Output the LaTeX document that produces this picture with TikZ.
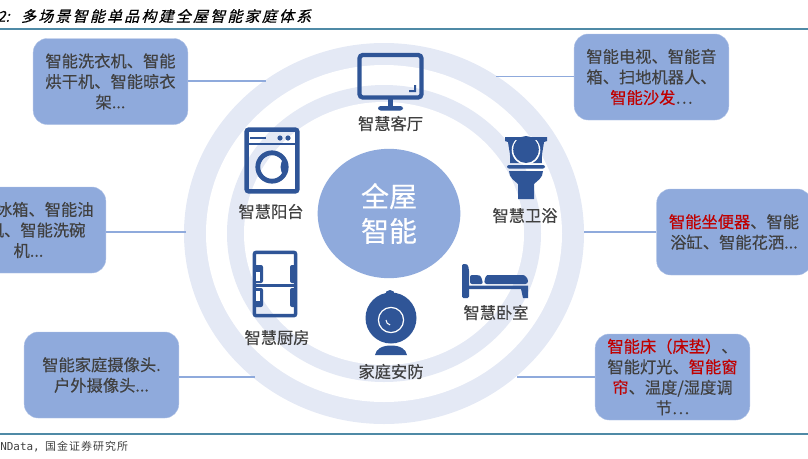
\documentclass[tikz,border=0pt]{standalone}
\usepackage{fontspec}
\usetikzlibrary{shapes.geometric}
\setmainfont[FakeBold=0.25]{Noto Sans CJK SC}
\newfontfamily\titlefont[FakeSlant=0.25,FakeBold=0.5]{Noto Sans CJK SC}
\newfontfamily\plainfont{Noto Sans CJK SC}
\newfontfamily\notefont{DejaVu Sans Mono}
\definecolor{ringblue}{HTML}{E4E9F5}
\definecolor{boxblue}{HTML}{8FAADC}
\definecolor{iconblue}{HTML}{2F5597}
\definecolor{textgray}{HTML}{404040}
\definecolor{hotred}{HTML}{C00000}
\definecolor{rulecolor}{HTML}{4F8AA6}
\tikzset{
	itembox/.style={rectangle,rounded corners=10.5pt,fill=boxblue,draw=boxblue!70!white,line width=0.3pt,inner sep=0pt,minimum width=116pt,minimum height=64.5pt,align=center,text=textgray,font=\fontsize{12.2}{15.4}\selectfont,execute at begin node={\vspace*{2.4pt}}},
	roomlabel/.style={inner sep=0pt,text=textgray,font=\fontsize{12.2}{15}\selectfont},
	linkline/.style={draw=boxblue,line width=1.4pt},
	iconline/.style={draw=iconblue,line width=3pt}
}
\begin{document}
\begin{tikzpicture}[x=0.75pt,y=-0.75pt]
	\useasboundingbox (0,0) rectangle (808,458);
	% rules and captions
	\coordinate (ruletopl) at (0,29);
	\coordinate (ruletopr) at (808,29);
	\coordinate (rulebotl) at (0,434);
	\coordinate (rulebotr) at (808,434);
	\draw[rulecolor,line width=1.4pt](ruletopl)--(ruletopr);
	\draw[rulecolor,line width=1.4pt](rulebotl)--(rulebotr);
	\node[anchor=west,inner sep=0pt,font=\titlefont\fontsize{11.2}{14}\selectfont,text=black](title) at (-3,16){2:\hspace{8.5pt}多\hspace{1.7pt}场\hspace{1.7pt}景\hspace{1.7pt}智\hspace{1.7pt}能\hspace{1.7pt}单\hspace{1.7pt}品\hspace{1.7pt}构\hspace{1.7pt}建\hspace{1.7pt}全\hspace{1.7pt}屋\hspace{1.7pt}智\hspace{1.7pt}能\hspace{1.7pt}家\hspace{1.7pt}庭\hspace{1.7pt}体\hspace{1.7pt}系};
	\node[anchor=west,inner sep=0pt,font=\plainfont\fontsize{8.2}{10}\selectfont,text=textgray](source) at (0,447){{\notefont NData,}\hspace{4pt}国\hspace{.8pt}金\hspace{.8pt}证\hspace{.8pt}券\hspace{.8pt}研\hspace{.8pt}究\hspace{.8pt}所};
	% rings
	\fill[ringblue] (384,233.5) ellipse (200 and 190.5);
	\fill[white] (384,233.5) ellipse (178 and 168.5);
	\fill[ringblue] (384,233.5) ellipse (157 and 148.5);
	\fill[white] (384,233.5) ellipse (140 and 131.5);
	\node[ellipse,fill=boxblue,minimum width=107pt,minimum height=97pt,inner sep=0pt,align=center,text=white,font=\fontsize{21}{26}\selectfont,execute at begin node={\vspace*{2.6pt}}](core) at (389,213.5){全屋\\智能};
	% side boxes
	\node[itembox](box1) at (110.5,81.5){智能洗衣机、智能\\烘干机、智能晾衣\\架...};
	\node[itembox](box2) at (651.5,77){智能电视、智能音\\箱、扫地机器人、\\\textcolor{hotred}{智能沙发}⋯};
	\node[itembox](box3) at (28.5,230){智能冰箱、智能油\\烟机、智能洗碗\\机...};
	\node[itembox](box4) at (734,232){\textcolor{hotred}{智能坐便器}、智能\\浴缸、智能花洒...};
	\node[itembox](box5) at (101.5,375){智能家庭摄像头.\\户外摄像头...};
	\node[itembox](box6) at (672.5,377){\textcolor{hotred}{智能床（床垫）}、\\智能灯光、\textcolor{hotred}{智能窗}\\\textcolor{hotred}{帘}、温度/湿度调\\节⋯};
	\coordinate (end1) at (266,81);
	\coordinate (end2) at (496,76.5);
	\coordinate (end3) at (186,232);
	\coordinate (end4) at (584,232);
	\coordinate (end5) at (255,377);
	\coordinate (end6) at (517,377);
	\draw[linkline](box1.east|-end1)--(end1);
	\draw[linkline](box2.west|-end2)--(end2);
	\draw[linkline](box3.east|-end3)--(end3);
	\draw[linkline](box4.west|-end4)--(end4);
	\draw[linkline](box5.east|-end5)--(end5);
	\draw[linkline](box6.west|-end6)--(end6);
	% room labels
	\node[roomlabel](livingroom) at (390.5,123.5){智慧客厅};
	\node[roomlabel](bathroom) at (525,215.5){智慧卫浴};
	\node[roomlabel](balcony) at (271,211.5){智慧阳台};
	\node[roomlabel](kitchen) at (277,337.5){智慧厨房};
	\node[roomlabel](bedroom) at (496,312.5){智慧卧室};
	\node[roomlabel](security) at (391,371.5){家庭安防};
	% tv
	\draw[iconline,line width=3.2pt,rounded corners=2.5pt] (359.5,55) rectangle (421.5,97.5);
	\fill[iconblue] (409,90) -- (414,90) -- (414,85) -- (416,85) -- (416,92) -- (409,92) -- cycle;
	\fill[iconblue] (388,98) rectangle (393,107);
	\fill[iconblue,rounded corners=2pt] (378,106) rectangle (403,110.5);
	% toilet
	\fill[iconblue] (505,137) -- (547,137) -- (547,141) -- (544,142) .. controls (543,150) and (541,156) .. (542,163) -- (510,163) .. controls (511,156) and (509,150) .. (508,142) -- (505,141) -- cycle;
	\fill[white] (526,150) ellipse (14.3 and 14.6);
	\fill[iconblue] (505,137) rectangle (547,140);
	\fill[iconblue] (526,149.5) ellipse (12.8 and 13.5);
	\fill[iconblue,rounded corners=1.5pt] (507,165) rectangle (545,168.5);
	\fill[iconblue] (509,171) -- (543,171) .. controls (543,178) and (537,181) .. (534,184) -- (534,199) -- (518,199) -- (518,184) .. controls (515,181) and (509,178) .. (509,171) -- cycle;
	% washer
	\draw[iconline,line width=3.4pt,rounded corners=1.5pt] (246.7,129.7) rectangle (297.3,191.3);
	\fill[iconblue] (247,142.5) rectangle (297,145);
	\fill[iconblue] (250,136.5) rectangle (266,139);
	\fill[iconblue] (280,138) circle (2.6);
	\fill[iconblue] (288,138) circle (2.6);
	\draw[iconblue,line width=3.6pt] (272,167) circle (14.2);
	\begin{scope}
		\clip (272,167) circle (13);
		\fill[iconblue] (293,167) circle (12.5);
	\end{scope}
	% fridge
	\draw[iconline,line width=2.6pt,rounded corners=1.5pt] (254.3,252.3) rectangle (295.7,315.7);
	\fill[iconblue] (254,283.5) rectangle (296,287);
	\fill[iconblue,rounded corners=1.5pt] (254,265) rectangle (263,283);
	\fill[iconblue,rounded corners=1.5pt] (254,288) rectangle (263,307);
	\fill[white] (256,272) rectangle (259.5,280.5);
	\fill[white] (256,291) rectangle (259.5,301);
	\fill[iconblue,rounded corners=1.5pt] (290,265) rectangle (296,283);
	\fill[iconblue,rounded corners=1.5pt] (290,288) rectangle (296,307);
	% camera
	\fill[iconblue] (390,295) circle (5);
	\fill[white] (390,294) circle (1.2);
	\fill[iconblue] (391,318) circle (25.5);
	\draw[white,line width=0.9pt] (391,320) circle (12.6);
	\draw[white,line width=0.8pt] (386,320) arc (180:100:5);
	\fill[iconblue] (375,355) .. controls (376,349) and (382,345.5) .. (391,345.5) .. controls (400,345.5) and (406,349) .. (407,355) -- cycle;
	% bed
	\fill[iconblue,rounded corners=1pt] (462,264) -- (466,264) .. controls (468,265) and (469,268) .. (469,272) -- (469,298) -- (462,298) -- cycle;
	\fill[iconblue,rounded corners=1.5pt] (470,275) -- (478,275) .. controls (481,276) and (482,279) .. (483,284) -- (470,284) -- cycle;
	\fill[iconblue,rounded corners=2pt] (484,284) .. controls (485,278) and (486,275) .. (490,275) -- (520,275) .. controls (525,275) and (528,278) .. (528,284) -- cycle;
	\fill[iconblue] (469,285.5) -- (528,285.5) -- (528,298) -- (523,298) -- (521,289) -- (469,289) -- cycle;
\end{tikzpicture}
\end{document}
